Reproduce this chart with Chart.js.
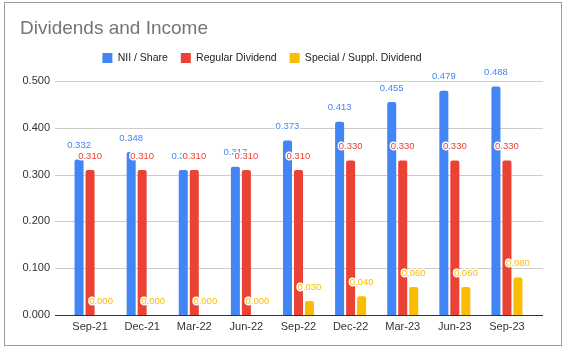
<!DOCTYPE html>
<html>
<head>
<meta charset="utf-8">
<script src="https://cdn.jsdelivr.net/npm/chart.js@4"></script>
<style>
  html, body { margin: 0; padding: 0; background: #fff; }
  #wrap { position: relative; width: 563px; height: 350px; }
  #frame { position: absolute; left: 4px; top: 2px; width: 556px; height: 342px; border: 1px solid #9e9e9e; pointer-events: none; }
</style>
</head>
<body>
<div id="wrap">
  <canvas id="myChart" width="563" height="350"></canvas>
  <div id="frame"></div>
</div>
<script>
const quarters = ["Sep-21", "Dec-21", "Mar-22", "Jun-22", "Sep-22", "Dec-22", "Mar-23", "Jun-23", "Sep-23"];
const niiPerShare = [0.332, 0.348, 0.310, 0.317, 0.373, 0.413, 0.455, 0.479, 0.488];
const regularDividend = [0.310, 0.310, 0.310, 0.310, 0.310, 0.330, 0.330, 0.330, 0.330];
const specialDividend = [0.000, 0.000, 0.000, 0.000, 0.030, 0.040, 0.060, 0.060, 0.080];
const yTicks = [0, 0.1, 0.2, 0.3, 0.4, 0.5];

Chart.defaults.font.family = "'Liberation Sans', Arial, sans-serif";

// horizontal grid lines, a bit wider than the bar area
const gridLines = {
  id: "gridLines",
  beforeDraw(chart) {
    // nudge the legend a little left, like the original
    const lg = chart.legend;
    if (lg) lg.right = lg.left + lg.width - 29;
  },
  beforeDatasetsDraw(chart) {
    const { ctx, chartArea, scales } = chart;
    ctx.save();
    ctx.lineWidth = 1;
    ctx.strokeStyle = "#cccccc";
    yTicks.forEach((v) => {
      if (v === 0) return;
      const y = Math.round(scales.y.getPixelForValue(v)) + 0.5;
      ctx.beginPath();
      ctx.moveTo(chartArea.left - 9, y);
      ctx.lineTo(chartArea.right + 10, y);
      ctx.stroke();
    });
    ctx.restore();
  },
  afterDatasetsDraw(chart) {
    const { ctx, chartArea, scales } = chart;
    const y = Math.round(scales.y.getPixelForValue(0)) + 0.5;
    ctx.save();
    ctx.strokeStyle = "#333333";
    ctx.lineWidth = 1;
    ctx.beginPath();
    ctx.moveTo(chartArea.left - 9, y);
    ctx.lineTo(chartArea.right + 10, y);
    ctx.stroke();
    ctx.restore();
  },
};

// value labels above each bar, white halo
const valueLabels = {
  id: "valueLabels",
  afterDatasetsDraw(chart) {
    const ctx = chart.ctx;
    ctx.save();
    ctx.font = "9.5px 'Liberation Sans', Arial, sans-serif";
    ctx.textAlign = "center";
    ctx.textBaseline = "middle";
    ctx.lineJoin = "round";
    ctx.lineWidth = 3;
    chart.data.datasets.forEach((ds, i) => {
      chart.getDatasetMeta(i).data.forEach((bar, j) => {
        const text = ds.data[j].toFixed(3);
        const y = bar.y - 14;
        ctx.strokeStyle = "#ffffff";
        ctx.strokeText(text, bar.x, y);
        ctx.fillStyle = ds.backgroundColor;
        ctx.fillText(text, bar.x, y);
      });
    });
    ctx.restore();
  },
};

const ctx = document.getElementById("myChart");

new Chart(ctx, {
  type: "bar",
  data: {
    labels: quarters,
    datasets: [
      { label: "NII / Share", data: niiPerShare, backgroundColor: "#4285F4" },
      { label: "Regular Dividend", data: regularDividend, backgroundColor: "#EA4335" },
      { label: "Special / Suppl. Dividend", data: specialDividend, backgroundColor: "#FBBC04" },
    ],
  },
  options: {
    responsive: false,
    animation: false,
    layout: { padding: { left: 20, right: 30, top: 0, bottom: 0 } },
    datasets: {
      bar: { categoryPercentage: 0.633, barPercentage: 0.82, borderRadius: 2 },
    },
    plugins: {
      tooltip: { enabled: false },
      title: {
        display: true,
        text: "Dividends and Income",
        align: "start",
        color: "#757575",
        font: { size: 19, weight: "normal" },
        padding: { top: 17, bottom: 0 },
      },
      legend: {
        position: "top",
        labels: { boxWidth: 10, boxHeight: 10, padding: 13, color: "#222222", font: { size: 10.5 } },
      },
    },
    scales: {
      x: {
        grid: { display: false, drawTicks: false },
        border: { display: false },
        afterFit: (s) => { s.height = 35; },
        ticks: { padding: 5, color: "#333333", font: { size: 11 }, maxRotation: 0, autoSkip: false },
      },
      y: {
        min: 0,
        max: 0.5164,
        grid: { display: false, drawTicks: false },
        border: { display: false },
        afterBuildTicks: (s) => { s.ticks = yTicks.map((v) => ({ value: v })); },
        afterFit: (s) => { s.width = 44; },
        ticks: {
          padding: 14,
          color: "#333333",
          font: { size: 11 },
          callback: function (value) {
            return value.toFixed(3);
          },
        },
      },
    },
  },
  plugins: [gridLines, valueLabels],
});
</script>
</body>
</html>
